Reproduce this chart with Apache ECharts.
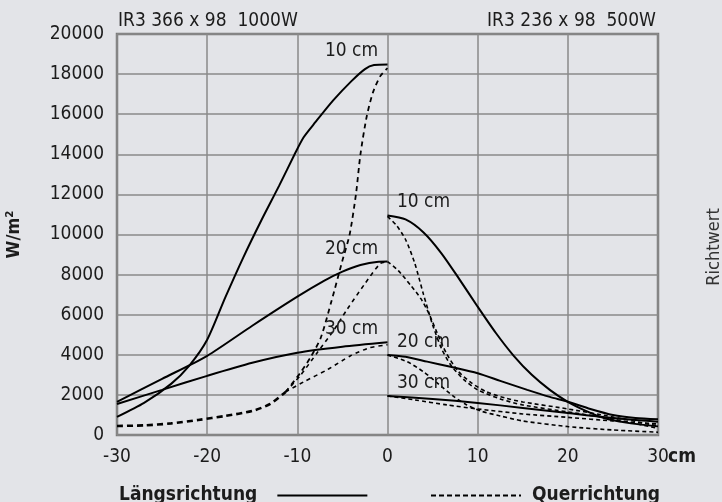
<!DOCTYPE html>
<html>
<head>
<meta charset="utf-8">
<script src="https://cdn.jsdelivr.net/npm/echarts@6/dist/echarts.min.js"></script>
<style>
html,body{margin:0;padding:0;background:#e3e4e8;}
#c{width:722px;height:502px;}
</style>
</head>
<body>
<div id="c"></div>
<script>
// ---- tick values ----
var xTicks = [-30, -20, -10, 0, 10, 20, 30];
var yTicks = [0, 2000, 4000, 6000, 8000, 10000, 12000, 14000, 16000, 18000, 20000];

// ---- IR3 366 x 98 1000W (left half) ----
var left10Solid = [[-30,900],[-27,1600],[-24,2550],[-22,3450],[-20,4750],[-18,6850],[-16,8850],[-14,10700],[-12,12450],[-10.3,14000],[-9.3,14850],[-8,15600],[-6,16700],[-4,17650],[-2.5,18250],[-1.5,18450],[0,18480]];
var left20Solid = [[-30,1650],[-25,2800],[-20,3950],[-15,5450],[-10,6900],[-7,7700],[-5,8150],[-3,8480],[-1,8640],[0,8650]];
var left30Solid = [[-30,1550],[-25,2250],[-20,2950],[-15,3600],[-10,4100],[-5,4400],[0,4620]];
var leftDashTrunk = [[-30,450],[-27,480],[-24,580],[-21,750],[-18,950],[-15,1200],[-13,1550],[-11.3,2150]];
var left10Dash = [[-11.3,2150],[-9.7,3080],[-8.5,3900],[-7.4,4850],[-6.2,6700],[-5,8700],[-4.2,10000],[-3.5,12000],[-3,14000],[-2.3,15900],[-1.6,17100],[-0.8,17900],[0,18300]];
var left20Dash = [[-11.3,2150],[-9.7,2950],[-7.8,4100],[-6,5200],[-4.5,6250],[-2.5,7550],[-0.8,8550],[0,8650]];
var left30Dash = [[-11.3,2150],[-9.3,2650],[-6.7,3250],[-4.1,3950],[-2,4350],[0,4500]];

// ---- IR3 236 x 98 500W (right half) ----
var right10Solid = [[0,10950],[2,10750],[4,10100],[6,9050],[8,7750],[10,6400],[12,5100],[14,3950],[16,3000],[18,2250],[20,1650],[22,1200],[24,850],[27,580],[30,430]];
var right20Solid = [[0,3990],[2,3900],[4.4,3660],[7,3400],[10,3080],[12.5,2700],[15.5,2250],[18,1900],[20,1660],[22.5,1300],[25,1000],[27.5,850],[30,780]];
var right30Solid = [[0,1950],[5,1800],[10,1600],[15,1350],[20,1100],[25,850],[30,665]];
var right10Dash = [[0,10900],[1,10450],[2,9750],[3,8600],[4,7000],[5,5500],[6,4300],[7,3500],[8.5,2750],[10,2250],[12.5,1800],[15,1500],[20,1150],[25,800],[30,330]];
var right20From1000Dash = [[0,8650],[1.2,8200],[2.6,7450],[3.7,6800],[4.6,6050],[5.5,5100],[6.5,4100],[7.8,3200],[9.3,2600],[11,2150],[13,1850],[15,1650],[20,1300],[25,900],[30,450]];
var right20Dash = [[0,3990],[2.2,3650],[4,3150],[5.5,2600],[7.4,1900],[8.8,1500],[10.3,1200],[12.5,950],[15,700],[20,420],[25,250],[30,140]];
var right30Dash = [[0,1950],[3,1750],[6.6,1500],[10,1300],[15,1050],[20,880],[25,700],[30,550]];

var curveLabels = ['10 cm', '20 cm', '30 cm'];
var titles = ['IR3 366 x 98  1000W', 'IR3 236 x 98  500W'];
var legendNames = ['Längsrichtung', 'Querrichtung'];

var FONT = '"DejaVu Sans Condensed", "DejaVu Sans", sans-serif';
var TXT = '#1c1c1c';

function solid(data, w) {
  return {type:'line', data:data, smooth:0.25, symbol:'none', silent:true,
    lineStyle:{color:'#000', width:w||2, type:'solid'}};
}
function dashed(data, w, dash) {
  return {type:'line', data:data, smooth:0.25, symbol:'none', silent:true,
    lineStyle:{color:'#000', width:w||1.6, type:dash||[5,4]}};
}
function withLabel(s, pt, text, dx) {
  s.markPoint = {symbol:'circle', symbolSize:0, silent:true, animation:false,
    label:{show:true, formatter:text, color:TXT, fontSize:19, fontFamily:FONT, offset:[dx,-13]},
    data:[{coord:pt}]};
  return s;
}

var series = [
  withLabel(solid(left10Solid), left10Solid[left10Solid.length-1], curveLabels[0], -36),
  withLabel(solid(left20Solid), left20Solid[left20Solid.length-1], curveLabels[1], -36),
  withLabel(solid(left30Solid), left30Solid[left30Solid.length-1], curveLabels[2], -36),
  dashed(leftDashTrunk, 2.6, [6,4]),
  dashed(left10Dash, 1.8, [5,4]),
  dashed(left20Dash, 1.6, [4,4]),
  dashed(left30Dash, 1.6, [4,4]),
  withLabel(solid(right10Solid), right10Solid[0], curveLabels[0], 36),
  withLabel(solid(right20Solid), right20Solid[0], curveLabels[1], 36),
  withLabel(solid(right30Solid), right30Solid[0], curveLabels[2], 36),
  dashed(right10Dash, 1.6, [4,3]),
  dashed(right20From1000Dash, 1.6, [4,3]),
  dashed(right20Dash, 1.6, [4,3]),
  dashed(right30Dash, 1.6, [4,3]),
  {name:legendNames[0], type:'line', data:[], symbol:'none', color:'#000', lineStyle:{color:'#000', width:2, type:'solid'}},
  {name:legendNames[1], type:'line', data:[], symbol:'none', color:'#000', lineStyle:{color:'#000', width:2, type:[5,3]}}
];

var chart = echarts.init(document.getElementById('c'), null, {renderer:'canvas'});
chart.setOption({
  animation:false,
  backgroundColor:'#e3e4e8',
  textStyle:{fontFamily:FONT},
  title:[
    {text:titles[0], left:113, top:7, textStyle:{fontSize:19, fontWeight:'normal', color:TXT, fontFamily:FONT}},
    {text:titles[1], right:61, top:7, textStyle:{fontSize:19, fontWeight:'normal', color:TXT, fontFamily:FONT}}
  ],
  grid:{left:117, right:64, top:34, bottom:67, show:true, borderColor:'#7a7a7a', borderWidth:2.5,
    backgroundColor:'transparent', outerBoundsMode:'none', containLabel:false},
  xAxis:{type:'value', min:xTicks[0], max:xTicks[xTicks.length-1], interval:xTicks[1]-xTicks[0],
    axisLine:{show:false}, axisTick:{show:false},
    axisLabel:{formatter:function(v){return String(v);}, margin:13, fontSize:19, color:TXT, fontFamily:FONT},
    splitLine:{show:true, lineStyle:{color:'#8a8a8a', width:1.5}},
    name:'cm', nameLocation:'end', nameGap:10, nameMoveOverlap:false,
    nameTextStyle:{fontSize:19, fontWeight:'bold', color:TXT, fontFamily:FONT, verticalAlign:'top', padding:[13,0,0,0]}},
  yAxis:{type:'value', min:yTicks[0], max:yTicks[yTicks.length-1], interval:yTicks[1]-yTicks[0],
    axisLine:{show:false}, axisTick:{show:false},
    axisLabel:{formatter:function(v){return String(v);}, margin:13, fontSize:19, color:TXT, fontFamily:FONT},
    splitLine:{show:true, lineStyle:{color:'#8a8a8a', width:1.5}},
    name:'W/m²', nameLocation:'middle', nameGap:94,
    nameTextStyle:{fontSize:18, fontWeight:'bold', color:TXT, fontFamily:FONT}},
  legend:[
    {data:[legendNames[0]], left:114, top:481, align:'right', itemWidth:90, itemHeight:14, selectedMode:false,
      itemStyle:{opacity:0}, lineStyle:{color:'#000'},
      textStyle:{fontSize:19, fontWeight:'bold', color:TXT, fontFamily:FONT, padding:[0,15,0,0]}},
    {data:[legendNames[1]], left:425, top:481, align:'left', itemWidth:90, itemHeight:14, selectedMode:false,
      itemStyle:{opacity:0}, lineStyle:{color:'#000'},
      textStyle:{fontSize:19, fontWeight:'bold', color:TXT, fontFamily:FONT, padding:[0,0,0,6]}}
  ],
  graphic:[
    {type:'text', x:714, y:247, rotation:Math.PI/2, silent:true,
      style:{text:'Richtwert', fontSize:18, fontFamily:FONT, fill:'#333', align:'center', verticalAlign:'middle'}}
  ],
  series:series
});
</script>
</body>
</html>
